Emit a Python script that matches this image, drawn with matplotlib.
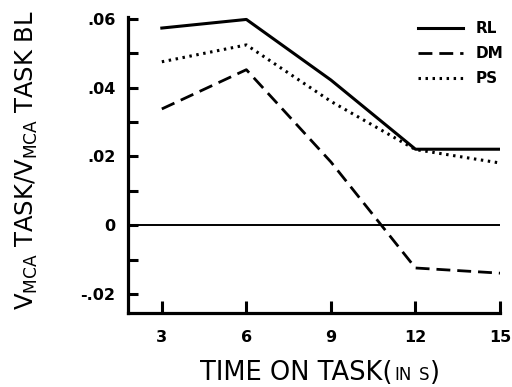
import matplotlib
matplotlib.use("Agg")
import matplotlib.pyplot as plt
from matplotlib.lines import Line2D

time_s = [3, 6, 9, 12, 15]
rl = [0.0573, 0.0598, 0.0422, 0.0221, 0.0221]
dm = [0.0338, 0.0452, 0.0184, -0.0124, -0.0139]
ps = [0.0475, 0.0524, 0.0360, 0.0220, 0.0181]
series_names = ["RL", "DM", "PS"]
yticks = [-0.02, 0, 0.02, 0.04, 0.06]
ytick_labels = ["-.02", "0", ".02", ".04", ".06"]
yminor = [-0.01, 0.01, 0.03, 0.05]

plt.rcParams['font.family'] = ['DejaVu Sans']
W, H = 512, 387
fig = plt.figure(figsize=(W / 100, H / 100), dpi=100)
ax = fig.add_axes([128 / W, 0.191, (500 - 128) / W, 0.765])

dash = (0, (5, 2.5))
dot = (0, (0.8, 1.5))
ax.plot(time_s, rl, color='black', lw=2.2, ls='-')
ax.plot(time_s, dm, color='black', lw=2.0, ls=dash)
ax.plot(time_s, ps, color='black', lw=2.2, ls=dot)
ax.axhline(0, color='black', lw=1.4)

ax.set_xlim(1.8, 15)
ax.set_ylim(-0.0255, 0.0605)
ax.set_xticks(time_s)
ax.set_xticklabels([str(t) for t in time_s], fontsize=11.5, fontweight='bold')
ax.set_yticks(yticks)
ax.set_yticklabels(ytick_labels, fontsize=11.5, fontweight='bold')
ax.set_yticks(yminor, minor=True)
ax.tick_params(axis='both', which='both', direction='in', width=2.2, length=8.5)
ax.tick_params(axis='y', which='both', length=7.5, pad=9)
ax.tick_params(axis='x', pad=12)
for s in ['top', 'right']:
    ax.spines[s].set_visible(False)
for s in ['left', 'bottom']:
    ax.spines[s].set_linewidth(2.3)

# y label
fig.text(27 / W, 1 - 160 / H,
         r"V$_{\mathregular{MCA}}$ TASK/V$_{\mathregular{MCA}}$ TASK BL",
         fontsize=17.5, rotation=90, ha='center', va='center')

# x label in pieces (smaller "IN S"), chained left to right
fig.canvas.draw()
renderer = fig.canvas.get_renderer()
base_y = 1 - 380 / H
pieces = [("TIME ON TASK(", 18.5, 2), ("IN", 12, 7), ("S", 12, 1), (")", 18.5, 0)]
x = 200
for txt, fs, gap in pieces:
    t = fig.text(x / W, base_y, txt, fontsize=fs, ha='left', va='baseline')
    bb = t.get_window_extent(renderer)
    x = bb.x1 + gap

handles = [Line2D([], [], color='black', lw=2.2, ls='-'),
           Line2D([], [], color='black', lw=2.0, ls=dash),
           Line2D([], [], color='black', lw=2.2, ls=dot)]
leg = fig.legend(handles, series_names, loc='upper left', frameon=False,
                 prop={'size': 11, 'weight': 'bold'},
                 handlelength=2.95, handletextpad=0.8, labelspacing=0.67,
                 borderpad=0, borderaxespad=0,
                 bbox_to_anchor=(418 / W, 1 - 21 / H), bbox_transform=fig.transFigure)

fig.savefig("out.png", dpi=100)
